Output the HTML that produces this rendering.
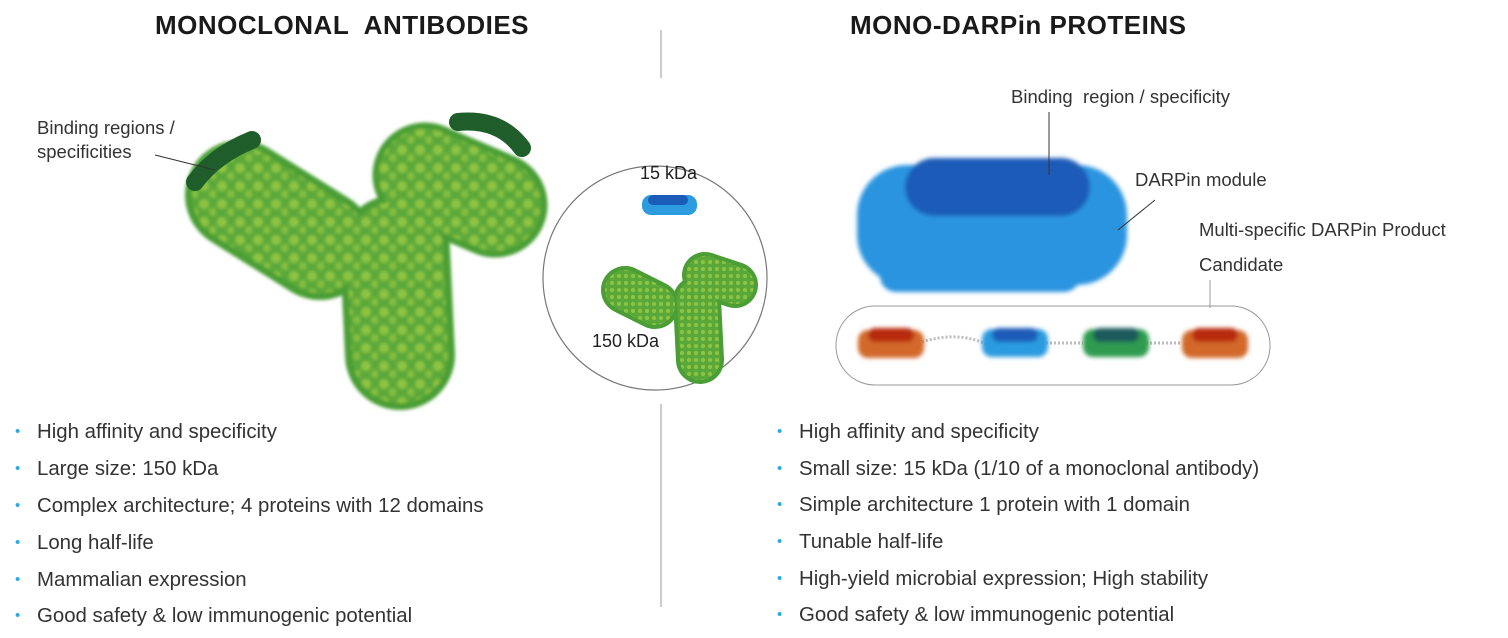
<!DOCTYPE html>
<html><head><style>
body{margin:0;background:#fff;width:1508px;height:638px;overflow:hidden;position:relative;font-family:"Liberation Sans",sans-serif;color:#222}
.t{position:absolute;font-size:18px;white-space:nowrap}
.h{position:absolute;font-size:26px;font-weight:bold;letter-spacing:0.5px;color:#1a1a1a}
.b{position:absolute;font-size:20.4px;color:#333;white-space:nowrap}
.b:before{content:"•";color:#29abe2;position:absolute;left:-22px;font-size:15px;top:2px}
.s{position:absolute;font-size:18.5px;color:#333;white-space:nowrap}
</style></head><body>
<div class="h" style="left:155px;top:10px">MONOCLONAL&nbsp; ANTIBODIES</div>
<div class="h" style="left:850px;top:10px">MONO-DARPin PROTEINS</div>
<svg width="1508" height="638" style="position:absolute;left:0;top:0">
<defs>
<filter id="bl" filterUnits="userSpaceOnUse" x="0" y="0" width="1508" height="638"><feGaussianBlur stdDeviation="2"/></filter>
<filter id="bl1" filterUnits="userSpaceOnUse" x="0" y="0" width="1508" height="638"><feGaussianBlur stdDeviation="1.5"/></filter>
<pattern id="sp" width="18" height="18" patternUnits="userSpaceOnUse"><rect width="18" height="18" fill="#5aa83a"/><circle cx="6" cy="6" r="5" fill="#8fc442"/><circle cx="15" cy="14" r="4" fill="#86bf40"/></pattern>
<pattern id="sp2" width="7" height="7" patternUnits="userSpaceOnUse"><rect width="7" height="7" fill="#5aa83a"/><circle cx="3" cy="3" r="2" fill="#8fc442"/></pattern>
</defs>
<line x1="661" y1="30" x2="661" y2="78" stroke="#999"/>
<line x1="661" y1="404" x2="661" y2="607" stroke="#999"/>
<g stroke-linecap="round" fill="none" filter="url(#bl1)">
<path d="M240 195 L320 245" stroke="#4a9e35" stroke-width="110"/>
<path d="M425 175 L495 205" stroke="#4a9e35" stroke-width="105"/>
<path d="M395 250 L400 355" stroke="#4a9e35" stroke-width="110"/>
<path d="M240 195 L320 245" stroke="url(#sp)" stroke-width="96"/>
<path d="M425 175 L495 205" stroke="url(#sp)" stroke-width="92"/>
<path d="M395 250 L400 355" stroke="url(#sp)" stroke-width="96"/>
</g>
<path d="M195 182 Q215 155 252 140" stroke="#1f5e2a" stroke-width="18" fill="none" stroke-linecap="round"/>
<path d="M458 122 Q500 118 522 148" stroke="#1f5e2a" stroke-width="18" fill="none" stroke-linecap="round"/>
<line x1="155" y1="155" x2="215" y2="170" stroke="#333"/>
<circle cx="655" cy="278" r="112" fill="none" stroke="#777" stroke-width="1.2"/>
<rect x="642" y="195" width="55" height="20" rx="9" fill="#2d9be0"/>
<rect x="648" y="195" width="40" height="10" rx="5" fill="#1a5cb8"/>
<g stroke-linecap="round" fill="none">
<path d="M625 290 L655 305" stroke="#4a9e35" stroke-width="48"/>
<path d="M705 275 L735 285" stroke="#4a9e35" stroke-width="46"/>
<path d="M697 300 L700 360" stroke="#4a9e35" stroke-width="48"/>
<path d="M625 290 L655 305" stroke="url(#sp2)" stroke-width="40"/>
<path d="M705 275 L735 285" stroke="url(#sp2)" stroke-width="38"/>
<path d="M697 300 L700 360" stroke="url(#sp2)" stroke-width="40"/>
</g>
<g filter="url(#bl)">
<rect x="857" y="165" width="270" height="120" rx="50" fill="#2b94e0"/>
<rect x="880" y="260" width="200" height="32" rx="16" fill="#2b94e0"/>
<rect x="905" y="158" width="185" height="58" rx="29" fill="#1d5cb8"/>
</g>
<line x1="1049" y1="112" x2="1049" y2="175" stroke="#333"/>
<line x1="1155" y1="200" x2="1118" y2="230" stroke="#333"/>
<line x1="1210" y1="280" x2="1210" y2="308" stroke="#999"/>
<rect x="836" y="306" width="434" height="79" rx="39" fill="none" stroke="#999"/>
<path d="M922 342 Q960 330 990 346" stroke="#bbb" stroke-width="3" stroke-dasharray="2 2" fill="none"/>
<line x1="1046" y1="343" x2="1083" y2="343" stroke="#bbb" stroke-width="3" stroke-dasharray="2 2"/>
<line x1="1146" y1="343" x2="1180" y2="343" stroke="#bbb" stroke-width="3" stroke-dasharray="2 2"/>
<g filter="url(#bl)">
<rect x="858" y="330" width="66" height="28" rx="10" fill="#d2692a"/><rect x="868" y="328" width="46" height="14" rx="7" fill="#b82a10"/>
<rect x="982" y="329" width="66" height="28" rx="10" fill="#2a9be0"/><rect x="992" y="328" width="46" height="14" rx="7" fill="#1d5cb8"/>
<rect x="1083" y="329" width="66" height="28" rx="10" fill="#2e9b50"/><rect x="1093" y="328" width="46" height="14" rx="7" fill="#1f5a5c"/>
<rect x="1182" y="330" width="66" height="28" rx="10" fill="#d2692a"/><rect x="1192" y="328" width="46" height="14" rx="7" fill="#b82a10"/>
</g>
</svg>
<div class="s" style="left:37px;top:116px;line-height:24px">Binding regions /<br>specificities</div>
<div class="t" style="left:640px;top:163px">15 kDa</div>
<div class="t" style="left:592px;top:331px">150 kDa</div>
<div class="s" style="left:1011px;top:86px">Binding&nbsp; region / specificity</div>
<div class="s" style="left:1135px;top:169px">DARPin module</div>
<div class="s" style="left:1199px;top:219px">Multi-specific DARPin Product</div>
<div class="s" style="left:1199px;top:254px">Candidate</div>
<div class="b" style="left:37px;top:421px">High affinity and specificity</div>
<div class="b" style="left:37px;top:458px">Large size: 150 kDa</div>
<div class="b" style="left:37px;top:495px">Complex architecture; 4 proteins with 12 domains</div>
<div class="b" style="left:37px;top:532px">Long half-life</div>
<div class="b" style="left:37px;top:569px">Mammalian expression</div>
<div class="b" style="left:37px;top:605px">Good safety &amp; low immunogenic potential</div>
<div class="b" style="left:799px;top:421px">High affinity and specificity</div>
<div class="b" style="left:799px;top:458px">Small size: 15 kDa (1/10 of a monoclonal antibody)</div>
<div class="b" style="left:799px;top:494px">Simple architecture 1 protein with 1 domain</div>
<div class="b" style="left:799px;top:531px">Tunable half-life</div>
<div class="b" style="left:799px;top:568px">High-yield microbial expression; High stability</div>
<div class="b" style="left:799px;top:604px">Good safety &amp; low immunogenic potential</div>
</body></html>
